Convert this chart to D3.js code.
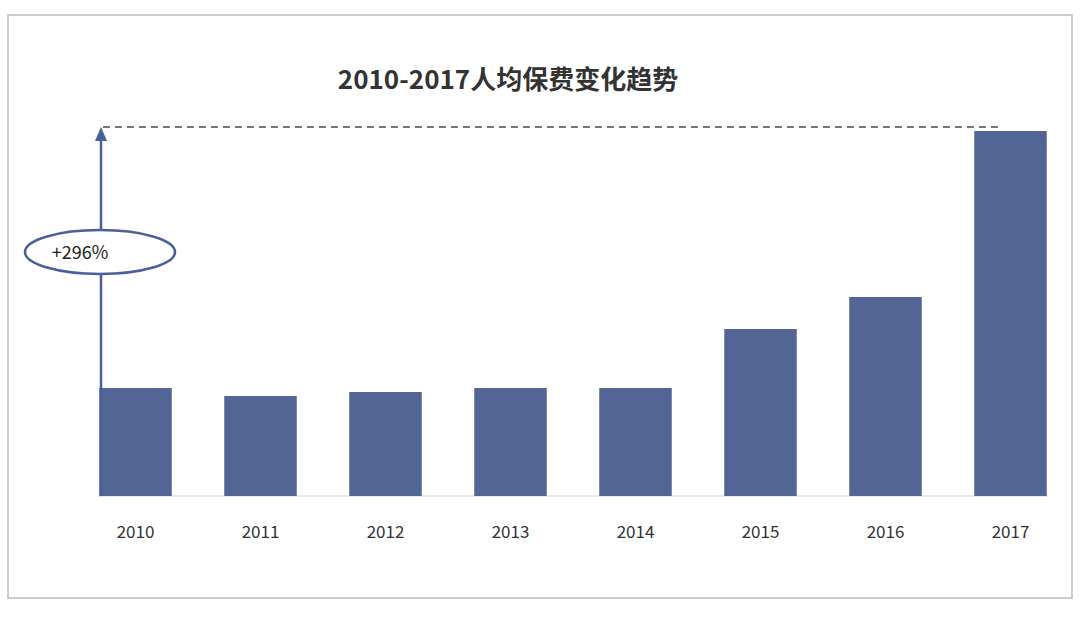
<!DOCTYPE html><html><head><meta charset="utf-8"><script src="https://cdn.jsdelivr.net/npm/d3@7"></script>
<style>body{margin:0;background:#fff}</style></head><body><svg width="1080" height="617"></svg><script>
const years=["2010","2011","2012","2013","2014","2015","2016","2017"];
const values=[108,100,104,108,108,167,199,365];
const title="2010-2017人均保费变化趋势";
const growthLabel="+296%";
const svg=d3.select("svg");
const font="'Noto Sans CJK SC','Noto Sans',sans-serif";
svg.append("rect").attr("x",8).attr("y",15).attr("width",1064).attr("height",583).attr("fill","#fff").attr("stroke","#bdbdbd").attr("stroke-width",1.5);
const x=d3.scaleBand().domain(years).range([73,1073]).paddingInner(0.42).paddingOuter(0.21);
const y=d3.scaleLinear().domain([0,365]).range([496,131]);
svg.append("line").attr("x1",98).attr("x2",1048).attr("y1",y(0)).attr("y2",y(0)).attr("stroke","#d0d0d0");
svg.selectAll(".bar").data(values).join("rect").attr("x",(d,i)=>x(years[i])).attr("width",x.bandwidth())
 .attr("y",d=>y(d)).attr("height",d=>y(0)-y(d)).attr("fill","#536595");
svg.append("g").attr("transform",`translate(0,${y(0)})`).call(d3.axisBottom(x).tickSize(0).tickPadding(30))
 .call(g=>g.select(".domain").remove()).selectAll("text").attr("font-size",17).attr("font-family",font).attr("fill","#333");
const topY=y(values[values.length-1])-4;
svg.append("line").attr("x1",103).attr("x2",x("2017")+x.bandwidth()/2-10).attr("y1",topY).attr("y2",topY).attr("stroke","#777").attr("stroke-width",2).attr("stroke-dasharray","7,5");
svg.append("line").attr("x1",101).attr("x2",101).attr("y1",y(0)).attr("y2",topY+10).attr("stroke","#4a5f99").attr("stroke-width",2.5);
svg.append("path").attr("d",`M95,${topY+14}L101,${topY}L107,${topY+14}Z`).attr("fill","#4a5f99");
svg.append("ellipse").attr("cx",100).attr("cy",252).attr("rx",75).attr("ry",22).attr("fill","#fff").attr("stroke","#4a5f99").attr("stroke-width",2.5);
svg.append("text").attr("x",80).attr("y",259).attr("text-anchor","middle").attr("font-size",18).attr("font-family",font).attr("fill","#222").text(growthLabel);
svg.append("text").attr("x",508).attr("y",89).attr("text-anchor","middle").attr("font-size",26).attr("font-weight","bold").attr("font-family",font).attr("fill","#333").text(title);
</script></body></html>
